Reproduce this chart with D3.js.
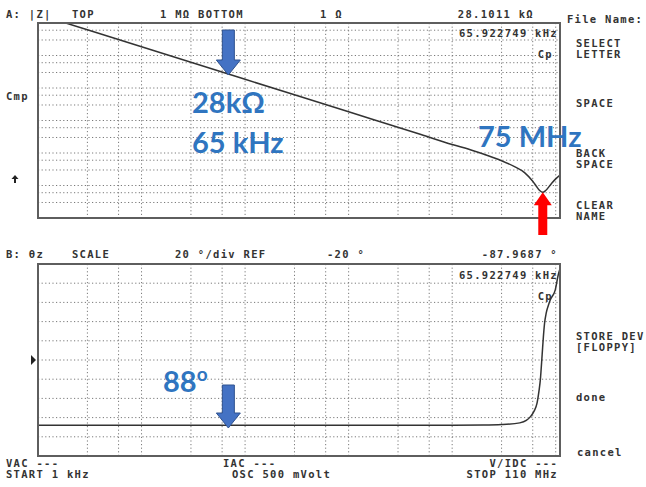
<!DOCTYPE html>
<html>
<head>
<meta charset="utf-8">
<script src="https://cdn.jsdelivr.net/npm/d3@7"></script>
<style>
  body { margin: 0; background: #fff; }
  .grid line { stroke: #7a7a7a; stroke-width: 1; stroke-dasharray: 1.2,2.4; }
  .frame { fill: none; stroke: #5e5e5e; stroke-width: 2; }
  .trace { fill: none; stroke: #333; stroke-width: 1.5; }
  .lcd { font-family: "DejaVu Sans Mono", monospace; font-weight: bold; font-size: 10.5px; letter-spacing: 1.3px; fill: #333; }
  .note { font-family: Lato, "Open Sans", sans-serif; font-weight: bold; font-size: 29px; fill: #2f75c0; }
</style>
</head>
<body>
<div class="container"></div>
<script>
// |Z| trace (Hz, ohm)
var impFreqs = [1e3, 1e4, 1e5, 1e6, 5e6, 1e7, 1.6e7, 2e7, 3e7, 4e7, 5e7, 6e7, 6.5e7, 7e7, 7.5e7, 8e7, 9e7, 1e8, 1.1e8];
var impValues = [1.85e6, 1.85e5, 1.85e4, 1850, 370, 183, 118, 93, 58, 38, 25, 13.5, 9.5, 7, 6.2, 7, 11, 16, 21];

// phase trace (Hz, degrees)
var phaseFreqs = [1e3, 1e5, 1e6, 1e7, 2e7, 3e7, 4.5e7, 5.2e7, 5.7e7, 6.2e7, 6.6e7, 6.9e7, 7.1e7, 7.4e7, 7.6e7, 7.8e7, 8.1e7, 8.5e7, 8.85e7, 9.9e7, 1.057e8, 1.1e8];
var phaseValues = [-88, -88, -88, -88, -87.8, -87.3, -85.5, -83, -79, -73, -65, -52, -41, -14, 4, 18, 29, 37, 42.5, 53, 68.5, 75];

// grid / axis settings
var freqDomain = [1e3, 1.1e8];
var impDomain = [1, 1e6];
var phaseDomain = [-120, 80];
var decadeSteps = [1, 3, 6];
var freqDecades = [1e3, 1e4, 1e5, 1e6, 1e7, 1e8];
var impDecades = [1, 10, 100, 1e3, 1e4, 1e5];
var phaseTicks = [-100, -80, -60, -40, -20, 0, 20, 40, 60];
var phaseRef = -20;
var markerFreq = 65922.749;
var resonanceFreq = 75e6;

const OUTER_WIDTH = 646;
const OUTER_HEIGHT = 487;
const LEFT = 38, RIGHT = 560;
const A_TOP = 23, A_BOTTOM = 218;
const B_TOP = 264, B_BOTTOM = 456;

var gridValues = function (decades, domain) {
    var out = [];
    decades.forEach(function (d) {
        decadeSteps.forEach(function (m) {
            var v = d * m;
            if (v > domain[0] && v < domain[1]) out.push(v);
        });
    });
    return out;
};

var svg = d3.select('.container').append('svg')
    .attr('width', OUTER_WIDTH)
    .attr('height', OUTER_HEIGHT);

var xScale = d3.scaleLog().domain(freqDomain).range([LEFT, RIGHT]);
var zScale = d3.scaleLog().domain(impDomain).range([A_BOTTOM, A_TOP]);
var pScale = d3.scaleLinear().domain(phaseDomain).range([B_BOTTOM, B_TOP]);

var xGrid = gridValues(freqDecades, freqDomain);

var drawPanel = function (id, top, bottom, yValues, yScale) {
    var g = svg.append('g').attr('class', 'grid');
    g.selectAll('line.v').data(xGrid).enter().append('line')
        .attr('class', 'v')
        .attr('x1', function (d) { return xScale(d); })
        .attr('x2', function (d) { return xScale(d); })
        .attr('y1', top).attr('y2', bottom);
    g.selectAll('line.h').data(yValues).enter().append('line')
        .attr('class', 'h')
        .attr('x1', LEFT).attr('x2', RIGHT)
        .attr('y1', function (d) { return yScale(d); })
        .attr('y2', function (d) { return yScale(d); });

    svg.append('clipPath').attr('id', id)
        .append('rect')
        .attr('x', LEFT).attr('y', top)
        .attr('width', RIGHT - LEFT).attr('height', bottom - top);
};

drawPanel('clipA', A_TOP, A_BOTTOM, gridValues(impDecades, impDomain), zScale);
drawPanel('clipB', B_TOP, B_BOTTOM, phaseTicks, pScale);

var lcd = function (x, y, str, anchor) {
    svg.append('text')
        .attr('class', 'lcd')
        .attr('x', x).attr('y', y)
        .attr('text-anchor', anchor || 'start')
        .text(str);
};

// readouts inside the plots
lcd(558, 37, '65.922749 kHz', 'end');
lcd(553, 58, 'Cp', 'end');
lcd(558, 279, '65.922749 kHz', 'end');
lcd(553, 300, 'Cp', 'end');

// traces
var zLine = d3.line()
    .x(function (d, i) { return xScale(impFreqs[i]); })
    .y(function (d) { return zScale(d); })
    .curve(d3.curveMonotoneX);

svg.append('path')
    .attr('class', 'trace')
    .attr('clip-path', 'url(#clipA)')
    .attr('d', zLine(impValues));

var pLine = d3.line()
    .x(function (d, i) { return xScale(phaseFreqs[i]); })
    .y(function (d) { return pScale(d); })
    .curve(d3.curveMonotoneX);

svg.append('path')
    .attr('class', 'trace')
    .attr('clip-path', 'url(#clipB)')
    .attr('d', pLine(phaseValues));

svg.append('rect').attr('class', 'frame')
    .attr('x', LEFT).attr('y', A_TOP)
    .attr('width', RIGHT - LEFT).attr('height', A_BOTTOM - A_TOP);
svg.append('rect').attr('class', 'frame')
    .attr('x', LEFT).attr('y', B_TOP)
    .attr('width', RIGHT - LEFT).attr('height', B_BOTTOM - B_TOP);

// reference marker for phase
var refY = pScale(phaseRef);
svg.append('path')
    .attr('d', 'M' + (LEFT - 7) + ',' + (refY - 5) + 'L' + (LEFT - 2) + ',' + refY + 'L' + (LEFT - 7) + ',' + (refY + 5) + 'Z')
    .attr('fill', '#222');

// small up arrow on the |Z| side
svg.append('path')
    .attr('d', 'M15,175 L18.5,179 L16,179 L16,183 L14,183 L14,179 L11.5,179 Z')
    .attr('fill', '#222');

// header and footer texts
lcd(6, 18, 'A: |Z|');
lcd(72, 18, 'TOP');
lcd(160, 18, '1 M\u03a9 BOTTOM');
lcd(320, 18, '1 \u03a9');
lcd(534, 18, '28.1011 k\u03a9', 'end');
lcd(567, 23, 'File Name:');
lcd(576, 47, 'SELECT');
lcd(576, 58, 'LETTER');
lcd(6, 100, 'Cmp');
lcd(576, 107, 'SPACE');
lcd(576, 157, 'BACK');
lcd(576, 168, 'SPACE');
lcd(576, 209, 'CLEAR');
lcd(576, 220, 'NAME');

lcd(6, 258, 'B: \u03b8z');
lcd(72, 258, 'SCALE');
lcd(175, 258, '20 \u00b0/div REF');
lcd(327, 258, '-20 \u00b0');
lcd(558, 258, '-87.9687 \u00b0', 'end');
lcd(576, 340, 'STORE DEV');
lcd(576, 351, '[FLOPPY]');
lcd(576, 401, 'done');
lcd(577, 456, 'cancel');

lcd(6, 467, 'VAC ---');
lcd(6, 478, 'START 1 kHz');
lcd(223, 467, 'IAC ---');
lcd(232, 478, 'OSC 500 mVolt');
lcd(558, 467, 'V/IDC ---', 'end');
lcd(558, 478, 'STOP 110 MHz', 'end');

// annotations
var blueArrow = function (cx, top, tipY) {
    var headY = tipY - 15;
    svg.append('path')
        .attr('d', 'M' + (cx - 6) + ',' + top + 'L' + (cx + 6) + ',' + top + 'L' + (cx + 6) + ',' + headY +
            'L' + (cx + 12) + ',' + headY + 'L' + cx + ',' + tipY + 'L' + (cx - 12) + ',' + headY +
            'L' + (cx - 6) + ',' + headY + 'Z')
        .attr('fill', '#4472c4')
        .attr('stroke', '#2f528f')
        .attr('stroke-width', 1);
};

var mx = xScale(markerFreq);
blueArrow(mx + 2, 30, 75);
blueArrow(mx + 2, 385, 428);

var rx = xScale(resonanceFreq);
var rTip = zScale(impValues[impFreqs.indexOf(resonanceFreq)]);
svg.append('path')
    .attr('d', 'M' + rx + ',' + rTip + 'L' + (rx + 9) + ',' + (rTip + 13) + 'L' + (rx + 4.5) + ',' + (rTip + 13) +
        'L' + (rx + 4.5) + ',235 L' + (rx - 4.5) + ',235 L' + (rx - 4.5) + ',' + (rTip + 13) +
        'L' + (rx - 9) + ',' + (rTip + 13) + 'Z')
    .attr('fill', '#ff0000');

svg.append('text').attr('class', 'note').attr('x', 192).attr('y', 113).text('28k\u03a9');
svg.append('text').attr('class', 'note').attr('x', 192).attr('y', 153).text('65 kHz');
svg.append('text').attr('class', 'note').attr('x', 478).attr('y', 147).attr('font-size', 28).text('75 MHz');
var deg = svg.append('text').attr('class', 'note').attr('x', 163).attr('y', 392);
deg.append('tspan').text('88');
deg.append('tspan').attr('font-size', 19).attr('dy', -11).text('o');
</script>
</body>
</html>
